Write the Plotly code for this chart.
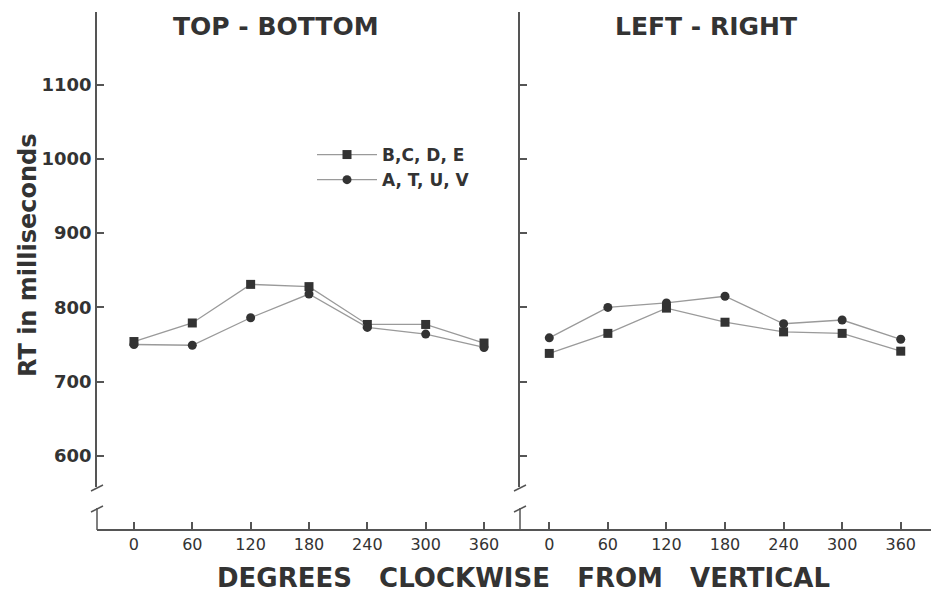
import plotly.graph_objects as go

angles = [0, 60, 120, 180, 240, 300, 360]
x_tick_labels = ["0", "60", "120", "180", "240", "300", "360"]
y_ticks = [600, 700, 800, 900, 1000, 1100]

tb_bcde = [754, 779, 831, 828, 777, 777, 752]
tb_atuv = [750, 749, 786, 818, 773, 764, 746]
lr_bcde = [738, 765, 799, 780, 767, 765, 741]
lr_atuv = [759, 800, 806, 815, 778, 783, 757]

series_names = ["B,C, D, E", "A, T, U, V"]
panel_titles = ["TOP - BOTTOM", "LEFT - RIGHT"]

W, H = 931, 592
def px(p):
    return p / W
def py(p):
    return 1 - p / H

LINE = "#9a9a9a"
MARK = "#333333"
AX = "#555555"
FONT = "DejaVu Sans"

fig = go.Figure()

def add(xa, ya, vals, symbol, name, show):
    fig.add_trace(go.Scatter(
        x=angles, y=vals, mode="lines+markers", name=name, showlegend=show,
        xaxis=xa, yaxis=ya,
        line=dict(color=LINE, width=1.3),
        marker=dict(symbol=symbol, size=9, color=MARK),
    ))

add("x", "y", tb_bcde, "square", series_names[0], True)
add("x", "y", tb_atuv, "circle", series_names[1], True)
add("x2", "y2", lr_bcde, "square", series_names[0], False)
add("x2", "y2", lr_atuv, "circle", series_names[1], False)

ydom = [py(487), py(12)]
yrange = [558, 1198]
x_pos = py(530)

common_x = dict(
    anchor="free", position=x_pos, showline=True, linecolor=AX, linewidth=1.5,
    ticks="inside", ticklen=7, tickcolor=AX, tickwidth=1.5,
    tickvals=angles, ticktext=x_tick_labels, showgrid=False, zeroline=False,
    tickfont=dict(family=FONT, size=16, color="#333"),
)
common_y = dict(
    domain=ydom, range=yrange, showline=True, linecolor=AX, linewidth=1.5,
    ticks="inside", ticklen=7, tickcolor=AX, tickwidth=1.5,
    tickvals=y_ticks, showgrid=False, zeroline=False,
)

fig.update_layout(
    width=W, height=H, margin=dict(l=0, r=0, t=0, b=0),
    paper_bgcolor="white", plot_bgcolor="white",
    xaxis=dict(domain=[px(97), px(520)], range=[-38, 397], **common_x),
    xaxis2=dict(domain=[px(520), 1], range=[-30, 391], **common_x),
    yaxis=dict(anchor="x", tickfont=dict(family=FONT, size=18, color="#333", weight="bold"), **common_y),
    yaxis2=dict(anchor="x2", showticklabels=False, **common_y),
    legend=dict(x=px(312), y=py(137), xanchor="left", yanchor="top",
                bgcolor="rgba(0,0,0,0)", font=dict(family=FONT, size=17, color="#333", weight="bold"),
                itemwidth=60, tracegroupgap=0),
    showlegend=True,
)

# broken y-axis: lower stub and break marks
shapes = []
for ax_x in (97, 520):
    shapes.append(dict(type="line", xref="paper", yref="paper",
                       x0=px(ax_x), x1=px(ax_x), y0=py(508), y1=py(530),
                       line=dict(color=AX, width=1.5)))
    shapes.append(dict(type="line", xref="paper", yref="paper",
                       x0=px(ax_x - 6), x1=px(ax_x + 6), y0=py(491), y1=py(485),
                       line=dict(color=AX, width=1.5)))
    shapes.append(dict(type="line", xref="paper", yref="paper",
                       x0=px(ax_x - 6), x1=px(ax_x + 6), y0=py(512), y1=py(506),
                       line=dict(color=AX, width=1.5)))
fig.update_layout(shapes=shapes)

def note(text, x, y, size, angle=0):
    return dict(text=text, x=px(x), y=py(y), xref="paper", yref="paper",
                xanchor="center", yanchor="middle", textangle=angle,
                showarrow=False, font=dict(family=FONT, size=size, color="#333", weight="bold"))

ann = [
    note(panel_titles[0], 276, 26, 25),
    note(panel_titles[1], 706, 26, 25),
    note("RT in milliseconds", 28, 255, 24, -90),
    note("DEGREES\u00a0\u00a0 CLOCKWISE\u00a0\u00a0 FROM\u00a0\u00a0 VERTICAL", 523, 578, 26),
]
fig.update_layout(annotations=ann)

fig.write_html("out.html")
